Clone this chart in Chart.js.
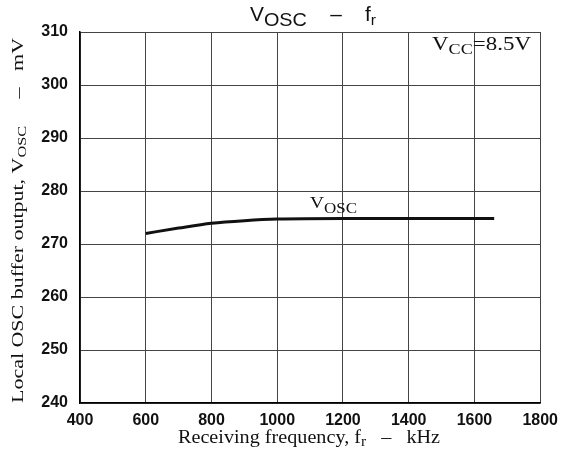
<!DOCTYPE html>
<html>
<head>
<meta charset="utf-8">
<script src="https://cdn.jsdelivr.net/npm/chart.js@4/dist/chart.umd.min.js"></script>
<style>
  html, body { margin: 0; padding: 0; background: #fff; }
  #wrap { width: 566px; height: 456px; position: relative; }
</style>
</head>
<body>
<div id="wrap"><canvas id="c"></canvas></div>
<script>
// ---- data ----
const freqKHz = [600, 700, 800, 900, 1000, 1200, 1400, 1600, 1660];
const voscMV  = [272.0, 273.0, 273.9, 274.4, 274.7, 274.8, 274.8, 274.8, 274.8];
const xTicks = [400, 600, 800, 1000, 1200, 1400, 1600, 1800];
const yTicks = [240, 250, 260, 270, 280, 290, 300, 310];
const curveLabelAt = { x: 1100, y: 276.8 };   // data position of the "VOSC" curve label

const SERIF = "'Liberation Serif', 'Times New Roman', serif";
const SANS = "'Liberation Sans', Arial, sans-serif";

function runWidth(ctx, parts) {
  let w = 0;
  for (const p of parts) { ctx.font = p.font; w += ctx.measureText(p.t).width; }
  return w;
}
// draw a run of text pieces (subscripts) stretched horizontally to a target width
function drawRunFit(ctx, parts, x, y, target) {
  const w = runWidth(ctx, parts);
  const k = target ? target / w : 1;
  ctx.save();
  ctx.translate(x, y);
  ctx.scale(k, 1);
  let cx = 0;
  for (const p of parts) {
    ctx.font = p.font;
    ctx.fillText(p.t, cx, p.dy || 0);
    cx += ctx.measureText(p.t).width;
  }
  ctx.restore();
}

const annotations = {
  id: 'annotations',
  afterDraw(chart) {
    const ctx = chart.ctx;
    const xs = chart.scales.x, ys = chart.scales.y;
    ctx.save();
    ctx.fillStyle = '#111';
    ctx.textBaseline = 'alphabetic';
    ctx.textAlign = 'left';

    // Title
    drawRunFit(ctx, [
      { t: 'V', font: `20px ${SANS}` },
      { t: 'OSC', font: `19px ${SANS}`, dy: 5 },
      { t: '    –    ', font: `20px ${SANS}` },
      { t: 'f', font: `20px ${SANS}` },
      { t: 'r', font: `15px ${SANS}`, dy: 4 }
    ], 250, 21, 126);

    // VCC annotation inside plot
    drawRunFit(ctx, [
      { t: 'V', font: `19px ${SERIF}` },
      { t: 'CC', font: `15px ${SERIF}`, dy: 4 },
      { t: '=8.5V', font: `19px ${SERIF}` }
    ], 432, 50, 99);

    // Curve label
    const lx = xs.getPixelForValue(curveLabelAt.x);
    const ly = ys.getPixelForValue(curveLabelAt.y);
    drawRunFit(ctx, [
      { t: 'V', font: `17px ${SERIF}` },
      { t: 'OSC', font: `15px ${SERIF}`, dy: 5 }
    ], lx, ly, 47);

    // X-axis title
    drawRunFit(ctx, [
      { t: 'Receiving frequency, f', font: `18.5px ${SERIF}` },
      { t: 'r', font: `14px ${SERIF}`, dy: 3 },
      { t: '   –   kHz', font: `18.5px ${SERIF}` }
    ], 178, 443, 262);

    // Y-axis title (rotated)
    ctx.translate(23, 403);
    ctx.rotate(-Math.PI / 2);
    drawRunFit(ctx, [
      { t: 'Local OSC buffer output, V', font: `17.5px ${SERIF}` },
      { t: 'OSC', font: `13px ${SERIF}`, dy: 3 },
      { t: '     –   mV', font: `17.5px ${SERIF}` }
    ], 0, 0, 365);
    ctx.restore();
  }
};

new Chart(document.getElementById('c'), {
  type: 'line',
  data: {
    datasets: [{
      data: freqKHz.map((f, i) => ({ x: f, y: voscMV[i] })),
      borderColor: '#111',
      borderWidth: 3,
      pointRadius: 0,
      cubicInterpolationMode: 'monotone',
      fill: false
    }]
  },
  options: {
    responsive: true,
    maintainAspectRatio: false,
    animation: false,
    layout: { padding: { top: 32, right: 24, left: 0, bottom: 0 } },
    plugins: { legend: { display: false }, tooltip: { enabled: false }, title: { display: false } },
    scales: {
      x: {
        type: 'linear',
        min: xTicks[0], max: xTicks[xTicks.length - 1],
        afterBuildTicks: s => { s.ticks = xTicks.map(v => ({ value: v })); },
        afterFit: s => { s.height = 53; },
        grid: { color: '#444', lineWidth: 1, drawTicks: false },
        border: { color: '#000', width: 1.5 },
        ticks: { padding: 8, color: '#111', font: { family: SANS, size: 16, weight: 'bold' },
                 maxRotation: 0, autoSkip: false, callback: v => String(v) }
      },
      y: {
        type: 'linear',
        min: yTicks[0], max: yTicks[yTicks.length - 1],
        afterBuildTicks: s => { s.ticks = yTicks.map(v => ({ value: v })); },
        afterFit: s => { s.width = 80; },
        grid: { color: '#444', lineWidth: 1, drawTicks: false },
        border: { color: '#000', width: 1.5 },
        ticks: { padding: 12, color: '#111', font: { family: SANS, size: 16, weight: 'bold' },
                 callback: v => String(v) }
      }
    }
  },
  plugins: [annotations]
});
</script>
</body>
</html>
